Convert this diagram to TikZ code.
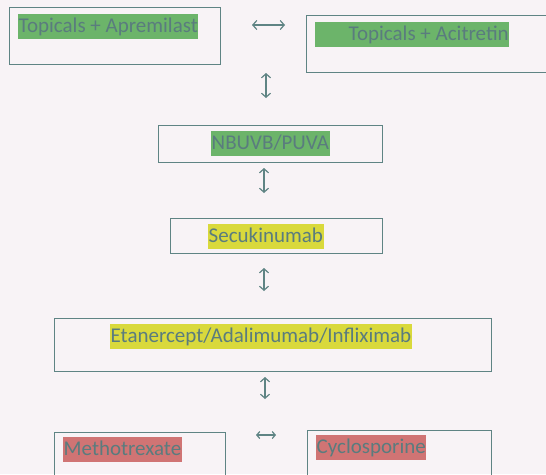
\documentclass[tikz,border=0pt]{standalone}
\usepackage{fontspec}
\setmainfont{Carlito}
\usetikzlibrary{positioning,arrows.meta}

\definecolor{edgeteal}{HTML}{5F8484}
\definecolor{inkteal}{HTML}{5A7C7E}
\definecolor{paper}{HTML}{F8F3F6}
\definecolor{hlgreen}{HTML}{6CB46A}
\definecolor{hlyellow}{HTML}{D9D93C}
\definecolor{hlred}{HTML}{D07474}

\begin{document}
\begin{tikzpicture}[x=1pt, y=-1pt,
      every node/.style={font=\fontsize{21}{25}\selectfont, text=inkteal},
      box/.style={draw=edgeteal, line width=1.1pt, anchor=north west,
                  inner sep=0pt},
      hilite/.style={anchor=west, inner xsep=0.5pt, inner ysep=0pt,
                   text height=18.5pt, text depth=6.5pt},
      greenlabel/.style={hilite, fill=hlgreen},
      yellowlabel/.style={hilite, fill=hlyellow},
      redlabel/.style={hilite, fill=hlred},
      arrow/.style={{Straight Barb[length=4pt,width=9pt]}-{Straight Barb[length=4pt,width=9pt]},
                    line width=1.2pt, draw=edgeteal},
  ]
    \fill[paper] (0,0) rectangle (546,474);
    \clip (0,0) rectangle (546,474);

    %% --- boxes, top to bottom ---
    \node[box, minimum width=211pt, minimum height=57pt] (apr) at (9,7) {};
    \node[box, minimum width=245pt, minimum height=57pt] (aci) at (306,15) {};
    \node[box, minimum width=224pt, minimum height=37pt] (puva) at (158,125) {};
    \node[box, minimum width=212pt, minimum height=35pt] (secu) at (170,218) {};
    \node[box, minimum width=437pt, minimum height=53pt] (tnf) at (54,318) {};
    \node[box, minimum width=171pt, minimum height=50pt] (mtx) at (54,432) {};
    \node[box, minimum width=184pt, minimum height=50pt] (csa) at (307,430) {};

    %% --- highlighted labels ---
    \node[greenlabel] (aprtxt) at (18,26) {Topicals + Apremilast};
    \node[greenlabel] (acitxt) at (315,34) {\hspace{33pt}Topicals + Acitretin};
    \node[greenlabel] (puvatxt) at (211,143) {NBUVB/PUVA};
    \node[yellowlabel] (secutxt) at (208,236) {Secukinumab};
    \node[yellowlabel] (tnftxt) at (110,336) {Etanercept/Adalimumab/Infliximab};
    \node[redlabel] (mtxtxt) at (63,449) {Methotrexate};
    \node[redlabel] (csatxt) at (316,447) {Cyclosporine};

    %% --- free-standing double arrows ---
    \coordinate (h1a) at (252,25);  \coordinate (h1b) at (285,25);
    \coordinate (v1a) at (266,73);  \coordinate (v1b) at (266,98);
    \coordinate (v2a) at (264,168); \coordinate (v2b) at (264,193);
    \coordinate (v3a) at (264,268); \coordinate (v3b) at (264,291);
    \coordinate (v4a) at (265,377); \coordinate (v4b) at (265,399);
    \coordinate (h2a) at (256,435); \coordinate (h2b) at (276,435);

    \draw[arrow] (h1a) -- (h1b);
    \draw[arrow] (v1a) -- (v1b);
    \draw[arrow] (v2a) -- (v2b);
    \draw[arrow] (v3a) -- (v3b);
    \draw[arrow] (v4a) -- (v4b);
    \draw[arrow, {Straight Barb[length=3pt,width=7pt]}-{Straight Barb[length=3pt,width=7pt]}] (h2a) -- (h2b);
\end{tikzpicture}
\end{document}
